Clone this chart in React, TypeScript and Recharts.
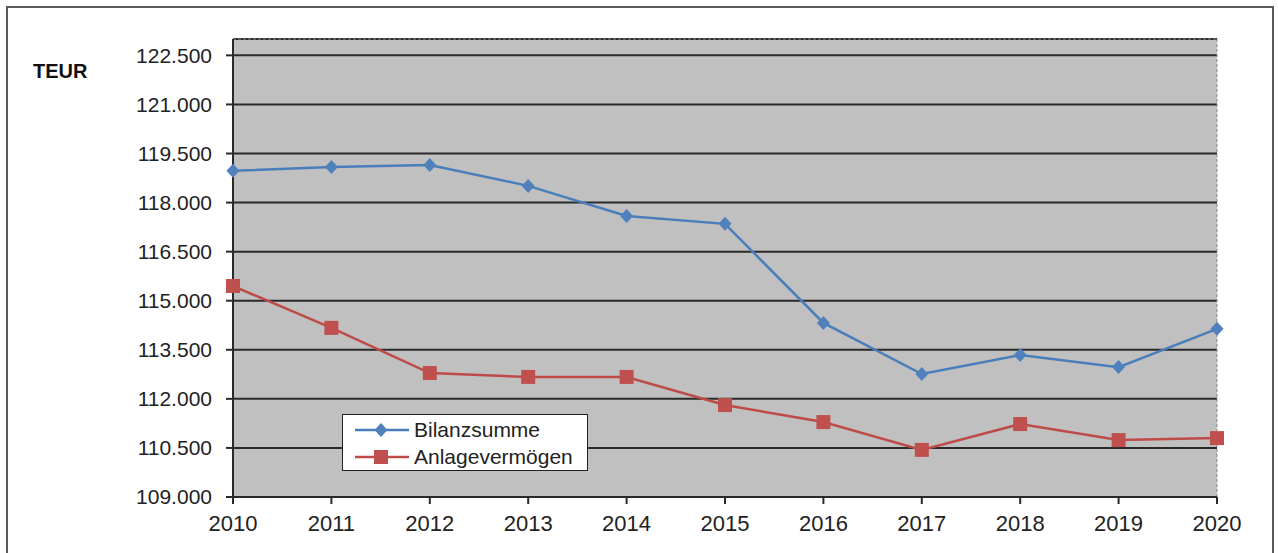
import React from "react";
import { LineChart, Line, XAxis, YAxis, CartesianGrid, ReferenceLine } from "recharts";

const years = ["2010", "2011", "2012", "2013", "2014", "2015", "2016", "2017", "2018", "2019", "2020"];
const bilanzsumme = [118970, 119090, 119150, 118510, 117590, 117350, 114320, 112760, 113340, 112970, 114140];
const anlagevermoegen = [115450, 114170, 112790, 112670, 112670, 111810, 111290, 110440, 111230, 110740, 110800];
const yTicks = [109000, 110500, 112000, 113500, 115000, 116500, 118000, 119500, 121000, 122500];
const seriesNames = ["Bilanzsumme", "Anlagevermögen"];
const unitLabel = "TEUR";

const data = years.map((y, i) => ({ year: y, b: bilanzsumme[i], a: anlagevermoegen[i] }));

const BLUE = "#4A7EBB";
const BLUE_M = "#4F81BD";
const RED = "#BE4B48";
const RED_M = "#C0504D";
const FONT = "'Liberation Sans', Arial, sans-serif";

const fmt = (v: number) => {
  const s = Math.round(v).toString();
  return s.slice(0, s.length - 3) + "." + s.slice(s.length - 3);
};

const Diamond = (props: any) => {
  const { cx, cy, index } = props;
  if (cx == null || cy == null) return null;
  const rx = 6.5, ry = 7;
  return <path key={"d" + index} d={`M${cx},${cy - ry}L${cx + rx},${cy}L${cx},${cy + ry}L${cx - rx},${cy}Z`} fill={BLUE_M} />;
};

const Square = (props: any) => {
  const { cx, cy, index } = props;
  if (cx == null || cy == null) return null;
  const s = 7;
  return <rect key={"s" + index} x={cx - s} y={cy - s} width={2 * s} height={2 * s} fill={RED_M} />;
};

export default function App() {
  return (
    <div style={{ position: "absolute", left: 0, top: 0, width: 1278, height: 553, background: "#fff", overflow: "hidden", fontFamily: FONT }}>
      <div style={{ position: "absolute", left: 6, top: 6, width: 1268, height: 600, border: "2px solid #5a5a5a", boxSizing: "border-box" }} />
      <div style={{ position: "absolute", left: 0, top: 0 }}>
        <LineChart width={1278} height={553} data={data} margin={{ top: 39, right: 61, bottom: 0, left: 0 }}>
          <CartesianGrid horizontal vertical={false} fill="#C0C0C0" stroke="#2a2a2a" strokeWidth={2} />
          <ReferenceLine y={123000} stroke="#888" strokeDasharray="3 2" strokeWidth={1} />
          <ReferenceLine x="2020" stroke="#888" strokeDasharray="3 2" strokeWidth={1} />
          <XAxis
            dataKey="year"
            height={56}
            stroke="#2a2a2a"
            strokeWidth={2}
            tickSize={7}
            tickMargin={11}
            tick={{ fill: "#222", fontSize: 22, fontFamily: FONT }}
            interval={0}
          />
          <YAxis
            domain={[109000, 123000]}
            ticks={yTicks}
            width={233}
            stroke="#2a2a2a"
            strokeWidth={2}
            tickSize={7}
            tickMargin={14}
            tickFormatter={fmt}
            tick={{ fill: "#222", fontSize: 21, fontFamily: FONT }}
            allowDataOverflow
          />
          <Line type="linear" dataKey="b" name={seriesNames[0]} stroke={BLUE} strokeWidth={2.5} dot={<Diamond />} isAnimationActive={false} />
          <Line type="linear" dataKey="a" name={seriesNames[1]} stroke={RED} strokeWidth={2.5} dot={<Square />} isAnimationActive={false} />
        </LineChart>
      </div>
      <div style={{ position: "absolute", left: 33, top: 60, fontSize: 20, fontWeight: "bold", color: "#111", lineHeight: "23px" }}>{unitLabel}</div>
      <div style={{ position: "absolute", left: 342, top: 414, width: 246, height: 57, background: "#fff", border: "1.5px solid #222", boxSizing: "border-box" }}>
        {seriesNames.map((n, i) => (
          <div key={n} style={{ position: "absolute", left: 12, top: i === 0 ? 3 : 30, height: 24, display: "flex", alignItems: "center" }}>
            <svg width={54} height={24}>
              <line x1={0} y1={12} x2={54} y2={12} stroke={i === 0 ? BLUE : RED} strokeWidth={2.5} />
              {i === 0 ? (
                <path d="M26,5L32.5,12L26,19L19.5,12Z" fill={BLUE_M} />
              ) : (
                <rect x={19} y={5} width={14} height={14} fill={RED_M} />
              )}
            </svg>
            <span style={{ fontSize: 21, color: "#222", marginLeft: 5, lineHeight: "24px" }}>{n}</span>
          </div>
        ))}
      </div>
    </div>
  );
}
